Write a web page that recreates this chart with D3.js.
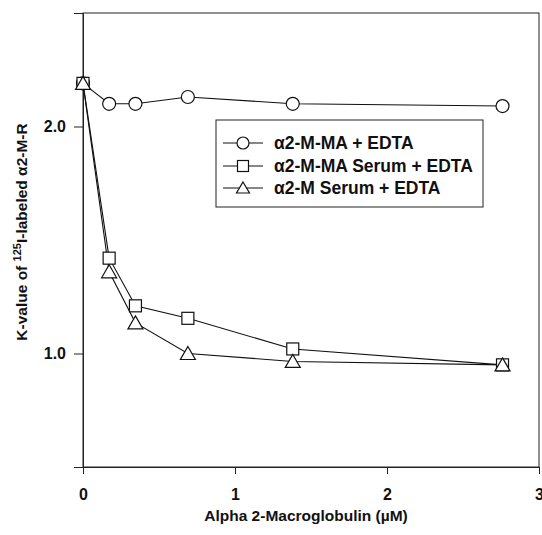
<!DOCTYPE html>
<html>
<head>
<meta charset="utf-8">
<script src="https://cdn.jsdelivr.net/npm/d3@7"></script>
<style>
  body { margin: 0; background: #fff; }
  text { font-family: "Liberation Sans", Arial, sans-serif; font-weight: bold; fill: #111; }
</style>
</head>
<body>
<div id="chart"></div>
<script>
// data
var conc = [0, 0.172, 0.345, 0.69, 1.38, 2.76];
var maEdta = [2.19, 2.10, 2.10, 2.13, 2.10, 2.09];
var maSerumEdta = [2.19, 1.42, 1.21, 1.155, 1.02, 0.95];
var mSerumEdta = [2.19, 1.36, 1.135, 1.0, 0.965, 0.95];
var seriesNames = ['\u03b12-M-MA + EDTA', '\u03b12-M-MA Serum + EDTA', '\u03b12-M Serum + EDTA'];
var xTicks = [0, 1, 2, 3];
var yTicks = [1.0, 2.0];

var width = 542, height = 535;
var margin = { top: 13, right: 3, bottom: 68, left: 83 };
var w = width - margin.left - margin.right;
var h = height - margin.top - margin.bottom;

var svg = d3.select('#chart').append('svg')
    .attr('width', width)
    .attr('height', height);

var g = svg.append('g')
    .attr('transform', 'translate(' + margin.left + ',' + margin.top + ')');

var x = d3.scaleLinear().domain([0, 3]).range([0, w]);
var y = d3.scaleLinear().domain([0.5, 2.5]).range([h, 0]);

// frame
g.append('rect')
    .attr('width', w).attr('height', h)
    .attr('fill', 'none').attr('stroke', '#222').attr('stroke-width', 1);

// axes
g.append('g')
    .attr('transform', 'translate(0,' + h + ')')
    .call(d3.axisBottom(x).tickValues(xTicks).tickFormat(d3.format('d')).tickSize(7).tickPadding(15));
g.append('g')
    .call(d3.axisLeft(y).tickValues(yTicks).tickFormat(d3.format('.1f')).tickSize(9).tickPadding(8));
g.selectAll('.domain').attr('stroke', '#222');
g.selectAll('.tick line').attr('stroke', '#222');
g.selectAll('.tick text').style('font-size', '16px').attr('fill', '#111');

// axis titles
svg.append('text')
    .attr('x', 306)
    .attr('y', 521)
    .attr('text-anchor', 'middle')
    .style('font-size', '15.5px')
    .text('Alpha 2-Macroglobulin (\u00b5M)');

var yt = svg.append('text')
    .attr('transform', 'translate(27,232) rotate(-90)')
    .attr('text-anchor', 'middle')
    .style('font-size', '15.5px');
yt.append('tspan').text('K-value of ');
yt.append('tspan').attr('dy', -6).style('font-size', '11px').text('125');
yt.append('tspan').attr('dy', 6).text('I-labeled \u03b12-M-R');

var line = d3.line()
    .x(function(d, i) { return x(conc[i]); })
    .y(function(d) { return y(d); });

var allSeries = [maEdta, maSerumEdta, mSerumEdta];
var shapes = ['circle', 'square', 'triangle'];

function drawMarker(sel, shape) {
    if (shape === 'circle') {
        sel.append('circle').attr('r', 6.5);
    } else if (shape === 'square') {
        sel.append('rect').attr('x', -6).attr('y', -6).attr('width', 12).attr('height', 12);
    } else {
        sel.append('path').attr('d', 'M0,-7L7.5,6L-7.5,6Z');
    }
    sel.selectAll('circle,rect,path').attr('fill', '#fff').attr('stroke', '#111').attr('stroke-width', 1.2);
}

allSeries.forEach(function(vals) {
    g.append('path')
        .datum(vals)
        .attr('fill', 'none')
        .attr('stroke', '#111')
        .attr('stroke-width', 1.1)
        .attr('d', line);
});

allSeries.forEach(function(vals, k) {
    g.selectAll('.pt' + k)
        .data(vals)
        .enter().append('g')
        .attr('class', 'pt' + k)
        .attr('transform', function(d, i) { return 'translate(' + x(conc[i]) + ',' + y(d) + ')'; })
        .each(function() { drawMarker(d3.select(this), shapes[k]); });
});

// legend
var lg = svg.append('g').attr('transform', 'translate(216,120)');
lg.append('rect')
    .attr('width', 267).attr('height', 87)
    .attr('fill', '#fff').attr('stroke', '#222').attr('stroke-width', 1);
var rowY = [23, 46, 68];
seriesNames.forEach(function(name, k) {
    var row = lg.append('g').attr('transform', 'translate(0,' + rowY[k] + ')');
    row.append('line').attr('x1', 7).attr('x2', 47).attr('stroke', '#111').attr('stroke-width', 1.1);
    var m = row.append('g').attr('transform', 'translate(27,0)');
    drawMarker(m, shapes[k]);
    m.selectAll('circle').attr('r', 6);
    m.selectAll('rect').attr('x', -5.5).attr('y', -5.5).attr('width', 11).attr('height', 11);
    m.selectAll('path').attr('d', 'M0,-6L6.5,5L-6.5,5Z');
    row.append('text')
        .attr('x', 58).attr('y', 6)
        .style('font-size', '17.5px')
        .text(name);
});
</script>
</body>
</html>
